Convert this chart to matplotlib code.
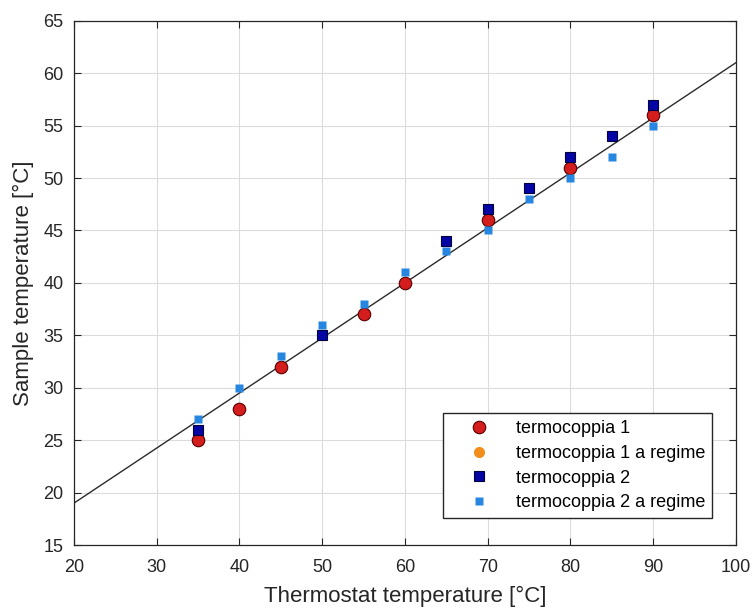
import numpy as np
import matplotlib
matplotlib.use('Agg')
import matplotlib.pyplot as plt

plt.rcParams['font.family'] = ['Liberation Sans', 'DejaVu Sans']

nan = np.nan

# Temperature del termostato e letture delle termocoppie
thermostat = [35, 40, 45, 50, 55, 60, 65, 70, 75, 80, 85, 90]
tc1 = [25, 28, 32, nan, 37, 40, nan, 46, nan, 51, nan, 56]
tc1_regime = [26, nan, nan, 35, nan, nan, 44, 47, 49, 52, 54, 57]
tc2 = [26, nan, nan, 35, nan, nan, 44, 47, 49, 52, 54, 57]
tc2_regime = [27, 30, 33, 36, 38, 41, 43, 45, 48, 50, 52, 55]

# Retta di riferimento
fit_slope = 0.525
fit_intercept = 8.5
fit_x = [20, 100]

fig = plt.figure(figsize=(7.54, 6.09), dpi=100)
ax = fig.add_axes([0.0981, 0.105, 0.878, 0.861])

x_fit = np.array(fit_x)
ax.plot(x_fit, fit_slope * x_fit + fit_intercept, color='#2b2b2b', lw=1.0, zorder=2)

ax.plot(thermostat, tc1, 'o', color='#d41d1d', mec='#5a0000', mew=0.8, ms=9,
        label='termocoppia 1', zorder=3)
ax.plot(thermostat, tc1_regime, 'o', color='#f28e1c', mec='none', ms=8,
        label='termocoppia 1 a regime', zorder=4)
ax.plot(thermostat, tc2, 's', color='#0505a5', mec='#000040', mew=0.8, ms=7,
        label='termocoppia 2', zorder=5)
ax.plot(thermostat, tc2_regime, 's', color='#2787e0', mec='none', ms=5.5,
        label='termocoppia 2 a regime', zorder=6)

ax.set_xlim(20, 100)
ax.set_ylim(15, 65)
ax.set_xticks(np.arange(20, 101, 10))
ax.set_yticks(np.arange(15, 66, 5))
ax.grid(True, color='#dcdcdc', lw=0.8)
ax.set_axisbelow(True)
ax.tick_params(direction='in', top=True, right=True, labelsize=13,
               colors='#262626', length=5, width=0.8)
ax.tick_params(axis='y', pad=7.5)
ax.tick_params(axis='x', pad=10)
for s in ax.spines.values():
    s.set_color('#262626')
    s.set_linewidth(0.9)

ax.set_xlabel('Thermostat temperature [°C]', fontsize=16, color='#262626', labelpad=7)
ax.set_ylabel('Sample temperature [°C]', fontsize=16, color='#262626', labelpad=6.5)

ax.legend(loc='lower right', bbox_to_anchor=(0.964, 0.051), fontsize=13,
          frameon=True, fancybox=False, edgecolor='#262626', framealpha=1,
          borderpad=0.4, labelspacing=0.42, handlelength=3.2,
          handletextpad=0.4, borderaxespad=0)

fig.savefig('out.png', dpi=100)
